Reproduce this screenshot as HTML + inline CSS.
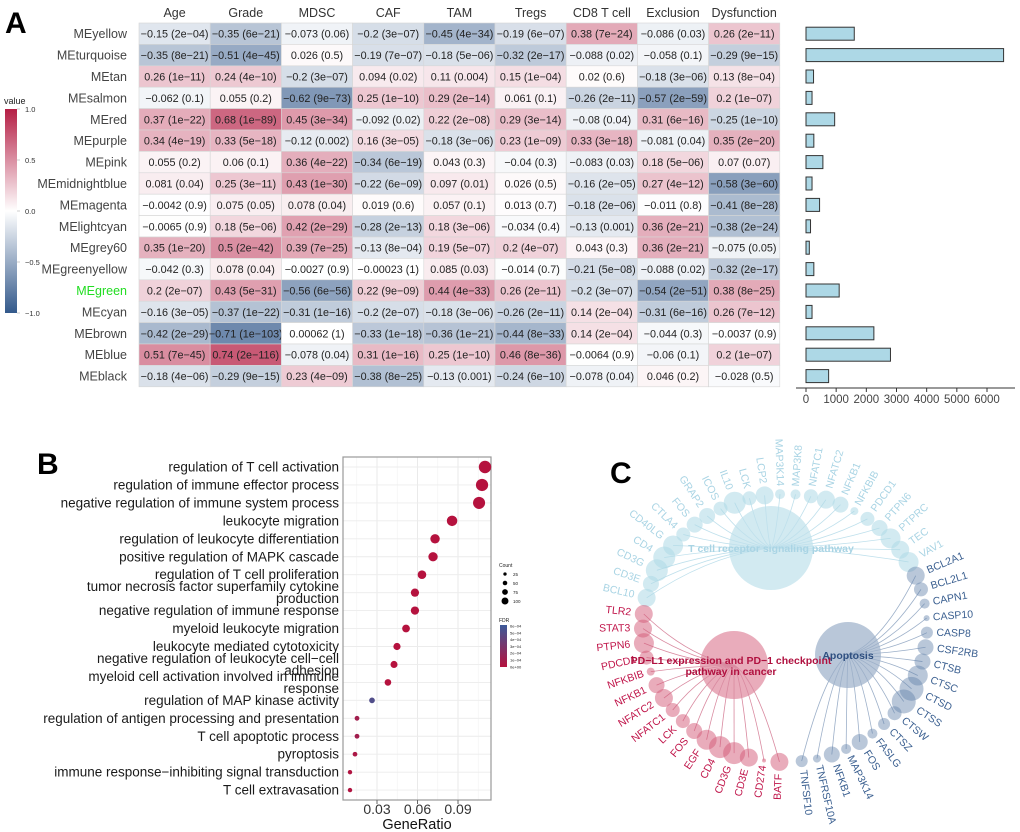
<!DOCTYPE html>
<html><head><meta charset="utf-8"><style>
html,body{margin:0;padding:0;background:#fff;}
svg{display:block;font-family:"Liberation Sans",Arial,sans-serif;}
</style></head><body>
<svg id="fig" width="1020" height="832" viewBox="0 0 1020 832" xmlns="http://www.w3.org/2000/svg">
<rect width="1020" height="832" fill="#fff"/>
<text x="5" y="33" font-size="30" font-weight="bold">A</text>
<text x="37" y="474" font-size="30" font-weight="bold">B</text>
<text x="610" y="483" font-size="30" font-weight="bold">C</text>
<g id="heat"></g>
<g id="legendA"></g>
<g id="bars"></g>
<g id="dot"></g>
<g id="net"></g>
</svg>
<script>
// ---------- Panel A data ----------
const modules = ["MEyellow","MEturquoise","MEtan","MEsalmon","MEred","MEpurple","MEpink","MEmidnightblue","MEmagenta","MElightcyan","MEgrey60","MEgreenyellow","MEgreen","MEcyan","MEbrown","MEblue","MEblack"];
const traits = ["Age","Grade","MDSC","CAF","TAM","Tregs","CD8 T cell","Exclusion","Dysfunction"];
const corValues = [
[-0.15,-0.35,-0.073,-0.2,-0.45,-0.19,0.38,-0.086,0.26],
[-0.35,-0.51,0.026,-0.19,-0.18,-0.32,-0.088,-0.058,-0.29],
[0.26,0.24,-0.2,0.094,0.11,0.15,0.02,-0.18,0.13],
[-0.062,0.055,-0.62,0.25,0.29,0.061,-0.26,-0.57,0.2],
[0.37,0.68,0.45,-0.092,0.22,0.29,-0.08,0.31,-0.25],
[0.34,0.33,-0.12,0.16,-0.18,0.23,0.33,-0.081,0.35],
[0.055,0.06,0.36,-0.34,0.043,-0.04,-0.083,0.18,0.07],
[0.081,0.25,0.43,-0.22,0.097,0.026,-0.16,0.27,-0.58],
[-0.0042,0.075,0.078,0.019,0.057,0.013,-0.18,-0.011,-0.41],
[-0.0065,0.18,0.42,-0.28,0.18,-0.034,-0.13,0.36,-0.38],
[0.35,0.5,0.39,-0.13,0.19,0.2,0.043,0.36,-0.075],
[-0.042,0.078,-0.0027,-0.00023,0.085,-0.014,-0.21,-0.088,-0.32],
[0.2,0.43,-0.56,0.22,0.44,0.26,-0.2,-0.54,0.38],
[-0.16,-0.37,-0.31,-0.2,-0.18,-0.26,0.14,-0.31,0.26],
[-0.42,-0.71,0.00062,-0.33,-0.36,-0.44,0.14,-0.044,-0.0037],
[0.51,0.74,-0.078,0.31,0.25,0.46,-0.0064,-0.06,0.2],
[-0.18,-0.29,0.23,-0.38,-0.13,-0.24,-0.078,0.046,-0.028]];
const pValues = [
["2e-04","6e-21","0.06","3e-07","4e-34","6e-07","7e-24","0.03","2e-11"],
["8e-21","4e-45","0.5","7e-07","5e-06","2e-17","0.02","0.1","9e-15"],
["1e-11","4e-10","3e-07","0.02","0.004","1e-04","0.6","3e-06","8e-04"],
["0.1","0.2","9e-73","1e-10","2e-14","0.1","2e-11","2e-59","1e-07"],
["1e-22","1e-89","3e-34","0.02","2e-08","3e-14","0.04","6e-16","1e-10"],
["4e-19","5e-18","0.002","3e-05","3e-06","1e-09","3e-18","0.04","2e-20"],
["0.2","0.1","4e-22","6e-19","0.3","0.3","0.03","5e-06","0.07"],
["0.04","3e-11","1e-30","6e-09","0.01","0.5","2e-05","4e-12","3e-60"],
["0.9","0.05","0.04","0.6","0.1","0.7","2e-06","0.8","8e-28"],
["0.9","5e-06","2e-29","2e-13","3e-06","0.4","0.001","2e-21","2e-24"],
["1e-20","2e-42","7e-25","8e-04","5e-07","4e-07","0.3","2e-21","0.05"],
["0.3","0.04","0.9","1","0.03","0.7","5e-08","0.02","2e-17"],
["2e-07","5e-31","6e-56","9e-09","4e-33","2e-11","3e-07","2e-51","8e-25"],
["3e-05","1e-22","1e-16","2e-07","3e-06","2e-11","2e-04","6e-16","7e-12"],
["2e-29","1e-103","1","1e-18","1e-21","8e-33","2e-04","0.3","0.9"],
["7e-45","2e-116","0.04","1e-16","1e-10","8e-36","0.9","0.1","1e-07"],
["4e-06","9e-15","4e-09","8e-25","0.001","6e-10","0.04","0.2","0.5"]];
const moduleSizes = [1600,6550,250,200,950,260,560,200,450,150,110,260,1100,200,2250,2800,750];
const barTicks = [0,1000,2000,3000,4000,5000,6000];
const legendTicks = [1.0,0.5,0.0,-0.5,-1.0];

// ---------- Panel B data ----------
const goTerms = [["regulation of T cell activation"],["regulation of immune effector process"],["negative regulation of immune system process"],["leukocyte migration"],["regulation of leukocyte differentiation"],["positive regulation of MAPK cascade"],["regulation of T cell proliferation"],["tumor necrosis factor superfamily cytokine","production"],["negative regulation of immune response"],["myeloid leukocyte migration"],["leukocyte mediated cytotoxicity"],["negative regulation of leukocyte cell\u2212cell","adhesion"],["myeloid cell activation involved in immune","response"],["regulation of MAP kinase activity"],["regulation of antigen processing and presentation"],["T cell apoptotic process"],["pyroptosis"],["immune response\u2212inhibiting signal transduction"],["T cell extravasation"]];
const geneRatios = [0.110,0.1078,0.1056,0.0856,0.0730,0.0715,0.0633,0.0581,0.0581,0.0515,0.0448,0.0426,0.0381,0.0263,0.0152,0.0152,0.0137,0.0100,0.0100];
const geneCounts = [110,108,106,86,73,72,63,58,58,52,45,43,38,26,15,15,14,10,10];
const fdrValues = [1e-6,1e-6,1e-6,1e-6,1e-6,1e-6,1e-6,1e-6,1e-6,1e-6,1e-6,1e-6,1e-6,5e-4,1e-4,1e-4,5e-5,2e-5,2e-5];
const ratioTicks = [0.03,0.06,0.09];
const countLegend = [25,50,75,100];
const fdrLegend = ["6e\u221204","5e\u221204","4e\u221204","3e\u221204","2e\u221204","1e\u221204","0e+00"];

// ---------- Panel C data ----------
const tcrGenes = ["BCL10","CD3E","CD3G","CD4","CD40LG","CTLA4","FOS","GRAP2","ICOS","IL10","LCK","LCP2","MAP3K14","MAP3K8","NFATC1","NFATC2","NFKB1","NFKBIB","PDCD1","PTPN6","PTPRC","TEC","VAV1"];
const tcrSizes = [9,8,11,11,10,7,8,8,7,11,7,9,5,5,7,9,8,4,7,8,10,9,10];
const pdGenes = ["TLR2","STAT3","PTPN6","PDCD1","NFKBIB","NFKB1","NFATC2","NFATC1","LCK","FOS","EGF","CD4","CD3G","CD3E","CD274","BATF"];
const pdSizes = [9,9,10,7,4,8,9,7,7,8,10,11,11,9,2,9];
const apoGenes = ["BCL2A1","BCL2L1","CAPN1","CASP10","CASP8","CSF2RB","CTSB","CTSC","CTSD","CTSS","CTSW","CTSZ","FASLG","FOS","MAP3K14","NFKB1","TNFRSF10A","TNFSF10"];
const apoSizes = [9,7,5,3,6,8,8,10,12,12,7,6,5,8,5,8,4,6];

const NS="http://www.w3.org/2000/svg";
function mk(parent,tag,attrs,text){const e=document.createElementNS(NS,tag);for(const k in attrs)e.setAttribute(k,attrs[k]);if(text!==undefined)e.textContent=text;parent.appendChild(e);return e;}
const M=s=>String(s).replace(/-/g,"\u2212");

// ---------- Heatmap ----------
const heat=document.getElementById('heat');
const hx0=139,hcw=71.2,hy0=23,hrh=21.4;
const colX=j=>hx0+j*hcw, rowY=i=>hy0+i*hrh;
function corColor(v){const pos=[181,31,69],neg=[51,89,139];const t=Math.min(1,Math.abs(v));const c=v>=0?pos:neg;return 'rgb('+Math.round(255-(255-c[0])*t)+','+Math.round(255-(255-c[1])*t)+','+Math.round(255-(255-c[2])*t)+')';}
traits.forEach((t,j)=>{
 const e=mk(heat,'text',{x:colX(j)+hcw/2,y:17,'font-size':12.5,fill:'#333','text-anchor':'middle'},t);
 
 
});
modules.forEach((m,i)=>{
 const lab=mk(heat,'text',{x:127,y:rowY(i)+hrh/2+4.5,'font-size':12.5,fill:m==='MEgreen'?'#22dd22':'#444','text-anchor':'end'},m);
 
 
 traits.forEach((t,j)=>{
  const v=corValues[i][j];
  const r=mk(heat,'rect',{x:colX(j),y:rowY(i),width:hcw,height:hrh,fill:corColor(v),stroke:'#d6d6d6','stroke-width':0.6});
  
  
  const tx=mk(heat,'text',{x:colX(j)+hcw/2,y:rowY(i)+hrh/2+4,'font-size':10.8,fill:'#222','text-anchor':'middle'},M(v)+' ('+M(pValues[i][j])+')');
  
  
 });
});
// legend
const lg=document.getElementById('legendA');
const defs=mk(document.getElementById('fig'),'defs',{});
const gA=mk(defs,'linearGradient',{id:'gA',x1:0,y1:0,x2:0,y2:1});
mk(gA,'stop',{offset:'0','stop-color':corColor(1)});mk(gA,'stop',{offset:'0.5','stop-color':'#fff'});mk(gA,'stop',{offset:'1','stop-color':corColor(-1)});
const lt=mk(lg,'text',{x:4,y:104,'font-size':9,fill:'#222'},'value');

const lb=mk(lg,'rect',{x:5,y:109,width:12,height:204,fill:'url(#gA)'});

legendTicks.forEach(v=>{const y=109+(1-v)/2*204;
 mk(lg,'line',{x1:17,x2:20,y1:y,y2:y,stroke:'#ccc'});
 const e=mk(lg,'text',{x:25,y:y+3,'font-size':7.5,fill:'#333'},M(v.toFixed(1)));
 });

// ---------- Bars ----------
const bars=document.getElementById('bars');
const bx=v=>806+v*(181/6000);
moduleSizes.forEach((s,i)=>{const yc=rowY(i)+hrh/2;
 const r=mk(bars,'rect',{x:bx(0),y:yc-6.5,width:bx(s)-bx(0),height:13,fill:'#add8e6',stroke:'#333','stroke-width':1});
 });
mk(bars,'line',{x1:796,x2:1015,y1:388,y2:388,stroke:'#333','stroke-width':1});
barTicks.forEach(t=>{mk(bars,'line',{x1:bx(t),x2:bx(t),y1:388,y2:392,stroke:'#333'});
 const e=mk(bars,'text',{x:bx(t),y:403,'font-size':11.5,fill:'#444','text-anchor':'middle'},String(t));
 });

// ---------- Dot plot ----------
const dot=document.getElementById('dot');
const dX=v=>336.5+v*1350, dY=i=>467+i*17.95;
const box={x0:343,x1:491,y0:457,y1:800};
[0.015,0.045,0.075,0.105].forEach(v=>mk(dot,'line',{x1:dX(v),x2:dX(v),y1:box.y0,y2:box.y1,stroke:'#f2f2f2','stroke-width':0.6}));
ratioTicks.forEach(v=>mk(dot,'line',{x1:dX(v),x2:dX(v),y1:box.y0,y2:box.y1,stroke:'#e8e8e8','stroke-width':0.9}));
goTerms.forEach((t,i)=>mk(dot,'line',{x1:box.x0,x2:box.x1,y1:dY(i),y2:dY(i),stroke:'#ececec','stroke-width':0.9}));
const fb=mk(dot,'rect',{x:box.x0,y:box.y0,width:box.x1-box.x0,height:box.y1-box.y0,fill:'none',stroke:'#999','stroke-width':1.2});

function fdrColor(f){const t=Math.min(1,f/6e-4);const a=[181,18,62],b=[61,90,153];return 'rgb('+Math.round(a[0]+(b[0]-a[0])*t)+','+Math.round(a[1]+(b[1]-a[1])*t)+','+Math.round(a[2]+(b[2]-a[2])*t)+')';}
const cr=c=>1.8+c*0.04;
goTerms.forEach((t,i)=>{const y=dY(i);
 t.forEach((line,k)=>{const yy=y+4.5+(t.length===2?(k===0?-6:6):0);
  const e=mk(dot,'text',{x:339,y:yy,'font-size':13.5,fill:'#1a1a1a','text-anchor':'end'},line);
  });
 const c=mk(dot,'circle',{cx:dX(geneRatios[i]),cy:y,r:cr(geneCounts[i]),fill:fdrColor(fdrValues[i])});
 });
ratioTicks.forEach(v=>{mk(dot,'line',{x1:dX(v),x2:dX(v),y1:box.y1,y2:box.y1+4,stroke:'#666'});
 const e=mk(dot,'text',{x:dX(v),y:814,'font-size':14,fill:'#333','text-anchor':'middle'},String(v));
 });
const xt=mk(dot,'text',{x:417,y:829,'font-size':14.5,fill:'#111','text-anchor':'middle'},'GeneRatio');

const ct=mk(dot,'text',{x:499,y:567,'font-size':5,fill:'#222'},'Count');

countLegend.forEach((c,k)=>{const y=574+k*9;mk(dot,'circle',{cx:505,cy:y,r:cr(c)*0.6,fill:'#000'});
 const e=mk(dot,'text',{x:513,y:y+2,'font-size':4.5,fill:'#222'},String(c));});
const gB=mk(defs,'linearGradient',{id:'gB',x1:0,y1:0,x2:0,y2:1});
mk(gB,'stop',{offset:'0','stop-color':fdrColor(6e-4)});mk(gB,'stop',{offset:'1','stop-color':fdrColor(0)});
const ft=mk(dot,'text',{x:499,y:622,'font-size':5,fill:'#222'},'FDR');

mk(dot,'rect',{x:500,y:625,width:7,height:42,fill:'url(#gB)'});
fdrLegend.forEach((s,k)=>{const y=626+k*6.8;const e=mk(dot,'text',{x:510,y:y+1.5,'font-size':4,fill:'#222'},s);
 });

// ---------- Network ----------
const net=document.getElementById('net');
const C={x:785,y:628,RX:142,RY:134};
const step=6.25;
const groups=[
 {genes:tcrGenes,sizes:tcrSizes,start:193,dir:1,hub:{x:771,y:548,r:42},line:'#bfe0ec',node:'rgba(173,216,230,0.55)',text:'#a9d4e4'},
 {genes:pdGenes,sizes:pdSizes,start:186,dir:-1,hub:{x:734,y:665,r:34},line:'#d98aa0',node:'rgba(212,90,120,0.5)',text:'#c0154a'},
 {genes:apoGenes,sizes:apoSizes,start:337,dir:1,hub:{x:848,y:655,r:33},line:'#9db0c9',node:'rgba(100,130,170,0.45)',text:'#3a5f90'}];
const px=(a,r)=>C.x+r*(C.RX/C.RY)*Math.cos(a), py=(a,r)=>C.y+r*Math.sin(a);
groups.forEach(g=>{
 const h=mk(net,'circle',{cx:g.hub.x,cy:g.hub.y,r:g.hub.r,fill:g.node});
 
});
groups.forEach(g=>{
 g.genes.forEach((gene,k)=>{
  const a=(g.start+g.dir*k*step)*Math.PI/180;
  const nx=px(a,C.RY), ny=py(a,C.RY);
  const qy=ny+(g.hub.y-ny)*0.85;
  const p=mk(net,'path',{d:'M'+g.hub.x+','+g.hub.y+' Q'+((g.hub.x+nx)/2)+','+qy+' '+nx+','+ny,fill:'none',stroke:g.line,'stroke-width':0.8});
  
 });
});
groups.forEach(g=>{
 g.genes.forEach((gene,k)=>{
  const deg=g.start+g.dir*k*step, a=deg*Math.PI/180;
  const nx=px(a,C.RY), ny=py(a,C.RY);
  const n=mk(net,'circle',{cx:nx,cy:ny,r:g.sizes[k],fill:g.node});
  
  const lr=C.RY+g.sizes[k]+3, lx=px(a,lr), ly=py(a,lr);
  const right=Math.cos(a)>=-0.0001;
  const rot=right?deg:deg-180;
  const t=mk(net,'text',{x:lx,y:ly,'font-size':10.5,fill:g.text,'text-anchor':right?'start':'end','dominant-baseline':'middle',transform:'rotate('+rot+' '+lx+' '+ly+')'},gene);
  
 });
});
const h1=mk(net,'text',{x:771,y:552,'font-size':10.5,'font-weight':'bold',fill:'#a9d4e4','text-anchor':'middle'},'T cell receptor signaling pathway');

const h2=mk(net,'text',{x:731,y:664,'font-size':10.5,'font-weight':'bold',fill:'#b0103f','text-anchor':'middle'},'PD\u2212L1 expression and PD\u22121 checkpoint');

const h3=mk(net,'text',{x:731,y:675,'font-size':10.5,'font-weight':'bold',fill:'#b0103f','text-anchor':'middle'},'pathway in cancer');

const h4=mk(net,'text',{x:848,y:659,'font-size':10.5,'font-weight':'bold',fill:'#2e4f80','text-anchor':'middle'},'Apoptosis');

</script>
</body></html>
